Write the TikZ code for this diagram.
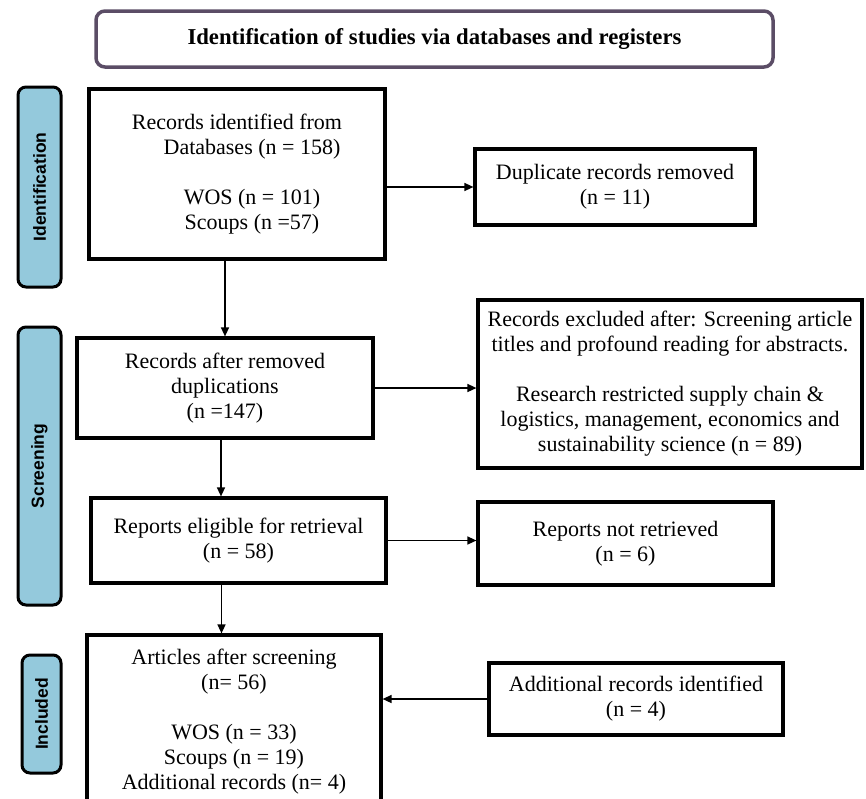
\documentclass[tikz,border=0pt]{standalone}
\usepackage{fontspec}
\setmainfont{Liberation Serif}
\newfontfamily\labfont{Liberation Sans}
\usetikzlibrary{arrows.meta}
\definecolor{hdrcol}{HTML}{5B4D66}
\definecolor{labfill}{HTML}{94C9DC}
\tikzset{
 box/.style={draw=black, line width=3.2pt, fill=white, inner sep=0pt, align=center, font=\fontsize{22}{25}\selectfont},
 lab/.style={draw=black, line width=3pt, rounded corners=8pt, fill=labfill, inner sep=0pt, rotate=90, font=\labfont\bfseries\fontsize{17.5}{20}\selectfont},
 arr/.style={line width=1.4pt, -{Triangle[length=9pt,width=8pt]}},
}
\begin{document}
\begin{tikzpicture}[x=1pt,y=-1pt]
\path[use as bounding box, clip] (0,0) rectangle (866,798);
\fill[white] (0,0) rectangle (866,798);
% header
\node[draw=hdrcol, line width=3.5pt, rounded corners=9pt, fill=white, minimum width=677pt, minimum height=56pt, inner sep=0pt, font=\bfseries\fontsize{22.7}{25}\selectfont] (hdr) at (434.5,39) {Identification of studies via databases and registers};
% side labels
\node[lab, minimum width=200pt, minimum height=43pt] (idlab) at (39.5,187) {Identification};
\node[lab, minimum width=278pt, minimum height=43pt] (scrlab) at (39.5,466) {Screening};
\node[lab, minimum width=118pt, minimum height=39pt] (inclab) at (41.5,714) {Included};
% boxes
\node[box, minimum width=296pt, minimum height=170pt] (b1) at (237,174) {Records identified from\\\hspace*{30pt}Databases (n = 158)\\[25pt]\hspace*{30pt}WOS (n = 101)\\\hspace*{30pt}Scoups (n =57)};
\node[box, minimum width=280pt, minimum height=76pt] (dup) at (615,187) {Duplicate records removed\\(n = 11)};
\node[box, minimum width=296pt, minimum height=100pt] (b2) at (225,388) {Records after removed\\duplications\\(n =147)};
\node[box, minimum width=384pt, minimum height=168pt] (excl) at (670,384) {Records excluded after: Screening article\\titles and profound reading for abstracts.\\[25pt]Research restricted supply chain \&\\logistics, management, economics and\\sustainability science (n = 89)};
\node[box, minimum width=295pt, minimum height=85pt] (b3) at (238.5,540.5) {Reports eligible for retrieval\\(n = 58)};
\node[box, minimum width=295pt, minimum height=83pt] (notret) at (625.5,543.5) {Reports not retrieved\\(n = 6)};
\node[box, minimum width=294pt, minimum height=174pt] (b4) at (234,722) {Articles after screening\\(n= 56)\\[25pt]WOS (n = 33)\\Scoups (n = 19)\\Additional records (n= 4)};
\node[box, minimum width=294pt, minimum height=72pt] (add) at (636,699) {Additional records identified\\(n = 4)};
% connectors
\draw[arr] (b1.south -| b2.north) -- (b2.north);
\draw[arr] ([xshift=-4pt]b2.south) -- ([xshift=-4pt]b2.south |- b3.north);
\draw[arr] ([xshift=-17pt]b3.south) -- ([xshift=-17pt]b3.south |- b4.north);
\draw[arr] (b1.east |- dup.west) -- (dup.west);
\draw[arr] (b2.east) -- (b2.east -| excl.west);
\draw[arr] (b3.east) -- (b3.east -| notret.west);
\draw[arr] (add.west) -- (add.west -| b4.east);
\end{tikzpicture}
\end{document}
